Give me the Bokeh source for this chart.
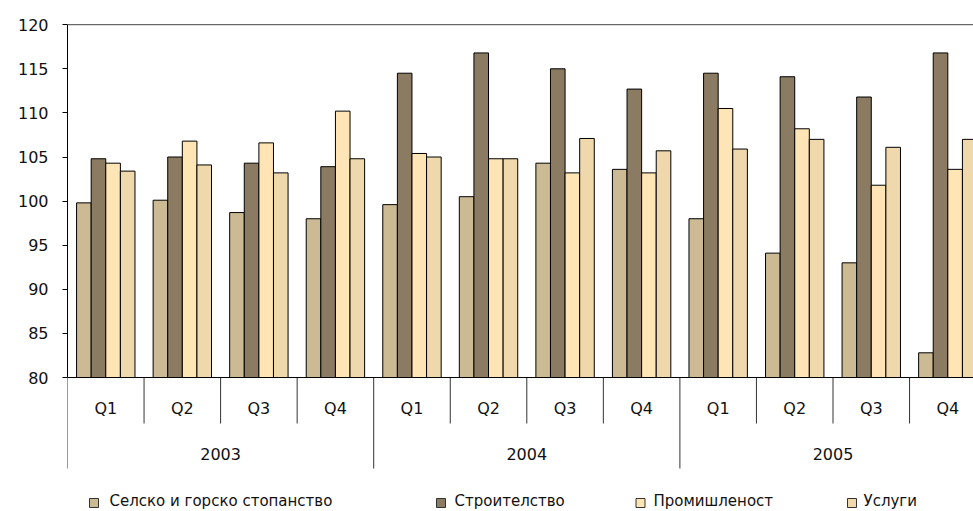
from bokeh.plotting import figure
from bokeh.models import Range1d, FixedTicker, Span, ColumnDataSource
from bokeh.embed import file_html
from bokeh.resources import INLINE
from bokeh.core.properties import value
import numpy as np

# ---- data ----
years = ["2003", "2004", "2005"]
quarters = ["Q1", "Q2", "Q3", "Q4"]
series_names = ["Селско и горско стопанство", "Строителство", "Промишленост", "Услуги"]
agriculture = [99.8, 100.1, 98.7, 98.0, 99.6, 100.5, 104.3, 103.6, 98.0, 94.1, 93.0, 82.8]
construction = [104.8, 105.0, 104.3, 103.9, 114.5, 116.8, 115.0, 112.7, 114.5, 114.1, 111.8, 116.8]
industry = [104.3, 106.8, 106.6, 110.2, 105.4, 104.8, 103.2, 103.2, 110.5, 108.2, 101.8, 103.6]
services = [103.4, 104.1, 103.2, 104.8, 105.0, 104.8, 107.1, 105.7, 105.9, 107.0, 106.1, 107.0]
y_ticks = [80, 85, 90, 95, 100, 105, 110, 115, 120]

# ---- styles / layout ----
colors = ["#CCBA94", "#8B7B62", "#FFE5B6", "#EFD8AC"]
FONT = "DejaVu Sans"
W, H = 973, 511
LEFT = 67
CAT_PX = 76.55           # pixels per quarter category
Y_PX = 8.82              # pixels per index unit
Y0_PX = 377              # pixel row of value 80
BASE = 80

def ydata(px):
    return BASE + (Y0_PX - px) / Y_PX

def xdata(px):
    return (px - LEFT) / CAT_PX

x_end = (W - LEFT) / CAT_PX
p = figure(width=W, height=H, output_backend="svg", toolbar_location=None,
           x_range=Range1d(0, x_end), y_range=Range1d(ydata(H), ydata(0)),
           x_axis_type=None, min_border_left=LEFT, min_border_right=0,
           min_border_top=0, min_border_bottom=0)
p.outline_line_color = None
p.grid.visible = False
p.background_fill_color = "white"
p.border_fill_color = "white"

# y axis
ax = p.yaxis[0]
ax.ticker = FixedTicker(ticks=y_ticks)
ax.bounds = (y_ticks[0], y_ticks[-1])
ax.axis_line_color = "black"
ax.major_tick_line_color = "black"
ax.major_tick_out = 5
ax.major_tick_in = 0
ax.minor_tick_line_color = None
ax.major_label_standoff = 14
ax.major_label_text_font = FONT
ax.major_label_text_font_size = "16px"
ax.major_label_text_color = "#111111"

# top border and baseline
p.add_layout(Span(location=y_ticks[-1], dimension="width", line_color="#444444", line_width=1))
p.add_layout(Span(location=BASE, dimension="width", line_color="black", line_width=1))

# bars
n_cat = len(years) * len(quarters)
centers = np.arange(n_cat) + 0.5
bar_w = 14.6 / CAT_PX
for k, (vals, c, name) in enumerate(zip([agriculture, construction, industry, services], colors, series_names)):
    xs = centers + (k - 1.5) * bar_w
    src = ColumnDataSource(dict(x=xs, top=vals))
    p.vbar(x="x", top="top", bottom=BASE, width=bar_w, source=src,
           fill_color=c, line_color="black", line_width=1)

# category separators
q_bounds = [i for i in range(1, n_cat) if i % len(quarters) != 0]
y_bounds = [i for i in range(0, n_cat + 1) if i % len(quarters) == 0]
p.segment(x0=q_bounds, x1=q_bounds, y0=[BASE] * len(q_bounds), y1=[ydata(423)] * len(q_bounds),
          line_color="#333333", line_width=1)
p.segment(x0=y_bounds, x1=y_bounds, y0=[BASE] * len(y_bounds), y1=[ydata(468)] * len(y_bounds),
          line_color="#333333", line_width=1)

# quarter labels
q_labels = [q for _ in years for q in quarters]
p.text(x=list(centers), y=[ydata(408)] * n_cat, text=q_labels, text_align="center",
       text_baseline="middle", text_font=value(FONT), text_font_size="16px", text_color="#111111")
# year labels
yc = [len(quarters) * (i + 0.5) for i in range(len(years))]
p.text(x=yc, y=[ydata(453)] * len(years), text=years, text_align="center",
       text_baseline="middle", text_font=value(FONT), text_font_size="16px", text_color="#111111")

# legend (drawn manually to match layout)
sq_px = [93.5, 440.5, 640, 851.5]
tx_px = [109, 454, 653, 863]
ly = ydata(500)
p.rect(x=[xdata(v) for v in sq_px], y=[ydata(502.5)] * 4, width=9, height=9,
       width_units="screen", height_units="screen",
       fill_color=colors, line_color="#333333", line_width=1)
p.text(x=[xdata(v) for v in tx_px], y=[ly] * 4, text=series_names, text_align="left",
       text_baseline="middle", text_font=value(FONT), text_font_size="15px", text_color="#111111")

open("out.html", "w").write(file_html(p, INLINE))
